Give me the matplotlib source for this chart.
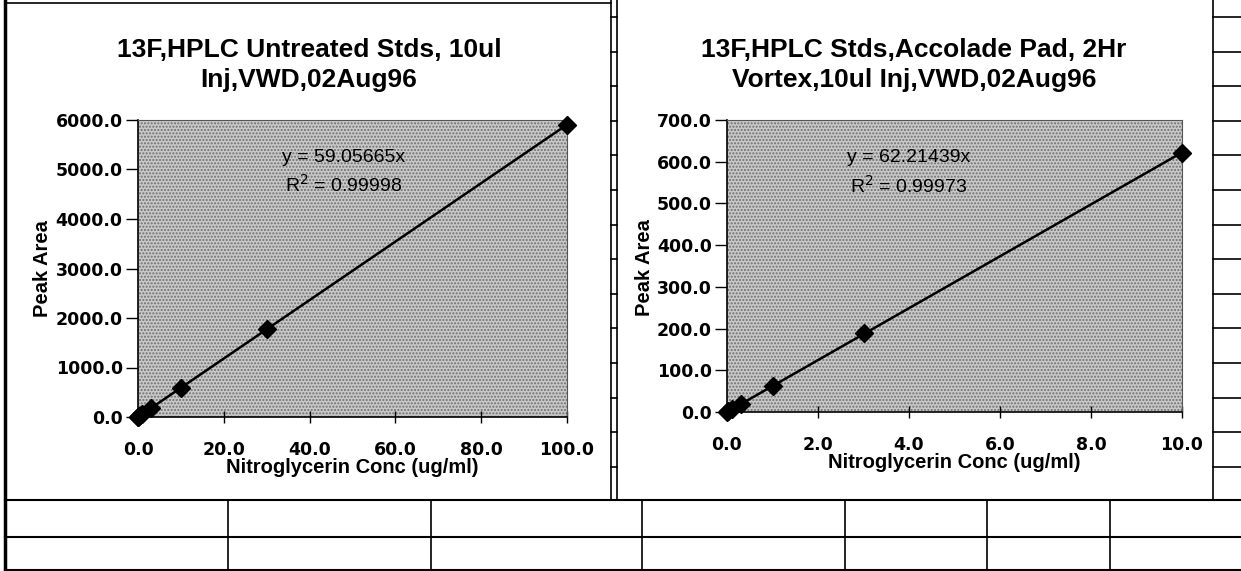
import matplotlib.pyplot as plt
from matplotlib.lines import Line2D
from matplotlib.patches import Rectangle
from matplotlib.ticker import FormatStrFormatter, MultipleLocator

W, H = 1241, 571

# left chart: untreated standards
conc_left = [0.0, 0.1, 0.3, 1.0, 3.0, 10.0, 30.0, 100.0]
area_left = [0.0, 5.8, 17.9, 59.6, 176.0, 592.0, 1775.0, 5905.0]
slope_left = 59.05665
r2_left = 0.99998

# right chart: accolade pad standards
conc_right = [0.0, 0.03, 0.1, 0.3, 1.0, 3.0, 10.0]
area_right = [0.0, 1.9, 6.4, 18.3, 61.5, 190.0, 621.0]
slope_right = 62.21439
r2_right = 0.99973

title_left = '13F,HPLC Untreated Stds, 10ul\nInj,VWD,02Aug96'
title_right = '13F,HPLC Stds,Accolade Pad, 2Hr\nVortex,10ul Inj,VWD,02Aug96'


def px(x, y):
    # pixel coords (origin top-left) -> figure fraction
    return x / W, 1 - y / H


def line(fig, x0, y0, x1, y1, lw=1.2):
    a = px(x0, y0)
    b = px(x1, y1)
    fig.add_artist(Line2D([a[0], b[0]], [a[1], b[1]], color='black', lw=lw,
                          transform=fig.transFigure))


def draw_sheet(fig):
    # chart boxes
    line(fig, 5, 3, 611, 3)
    line(fig, 5, 0, 5, 571, lw=2.5)
    line(fig, 611, 0, 611, 500)
    line(fig, 617, 0, 617, 500)
    line(fig, 1213, 0, 1213, 500)
    # narrow cell strips
    y = 17
    while y < 500:
        line(fig, 611, y, 617, y)
        line(fig, 1213, y, 1241, y)
        y += 34.6
    # bottom rows
    for yy in [500, 537, 570]:
        line(fig, 5, yy, 1241, yy, lw=1.5)
    for xx in [228, 431, 642, 845, 987, 1110]:
        line(fig, xx, 500, xx, 571)


def make_chart(fig, rect, conc, area, slope, r2, xmax, ymax, xstep, ystep, eq_pos):
    ax = fig.add_axes(rect)
    ax.set_facecolor('#c9c9c9')
    ax.add_patch(Rectangle((0, 0), 1, 1, transform=ax.transAxes, facecolor='none',
                           edgecolor='#6e6e6e', hatch='.....', lw=0, zorder=0))
    ax.plot([0, xmax], [0, slope * xmax], color='black', lw=1.8, zorder=2)
    ax.plot(conc, area, 'D', color='black', markersize=9.5, clip_on=False, zorder=3)
    ax.set_xlim(0, xmax)
    ax.set_ylim(0, ymax)
    ax.xaxis.set_major_locator(MultipleLocator(xstep))
    ax.yaxis.set_major_locator(MultipleLocator(ystep))
    ax.xaxis.set_major_formatter(FormatStrFormatter('%.1f'))
    ax.yaxis.set_major_formatter(FormatStrFormatter('%.1f'))
    ax.tick_params(axis='x', direction='inout', length=9, width=1, pad=13)
    ax.tick_params(axis='y', direction='out', length=9, width=1, pad=2)
    for lab in ax.get_xticklabels() + ax.get_yticklabels():
        lab.set_fontfamily('DejaVu Sans')
        lab.set_fontweight('bold')
        lab.set_fontsize(12.5)
    for s in ['left', 'bottom']:
        ax.spines[s].set_linewidth(1.2)
    for s in ['top', 'right']:
        ax.spines[s].set_color('#555555')
        ax.spines[s].set_linewidth(0.8)
    ax.set_xlabel('Nitroglycerin Conc (ug/ml)', fontsize=14.5, fontweight='bold', labelpad=-1)
    ax.text(eq_pos[0], eq_pos[1], 'y = %.5fx' % slope, transform=ax.transAxes,
            ha='center', va='center', fontsize=14)
    ax.text(eq_pos[0], eq_pos[2], 'R$^2$ = %.5f' % r2, transform=ax.transAxes,
            ha='center', va='center', fontsize=14)
    return ax


def main():
    plt.rcParams['font.family'] = ['Liberation Sans', 'DejaVu Sans']
    fig = plt.figure(figsize=(W / 100, H / 100), dpi=100)

    make_chart(fig, [138 / W, 1 - 417 / H, 429 / W, 297 / H], conc_left, area_left,
               slope_left, r2_left, 100, 6000, 20, 1000, (0.48, 0.875, 0.78))
    make_chart(fig, [727 / W, 1 - 412 / H, 455 / W, 292 / H], conc_right, area_right,
               slope_right, r2_right, 10, 700, 2, 100, (0.40, 0.872, 0.775))

    fig.text(*px(309, 65), title_left, ha='center', va='center', fontsize=19,
             fontweight='bold', linespacing=1.35)
    fig.text(*px(914, 65), title_right, ha='center', va='center', fontsize=19,
             fontweight='bold', linespacing=1.35)
    fig.text(*px(42, 269), 'Peak Area', rotation=90, ha='center', va='center',
             fontsize=14.5, fontweight='bold')
    fig.text(*px(645, 268), 'Peak Area', rotation=90, ha='center', va='center',
             fontsize=14.5, fontweight='bold')

    draw_sheet(fig)
    fig.savefig('out.png', dpi=100, facecolor='white')


if __name__ == "__main__":
    main()
